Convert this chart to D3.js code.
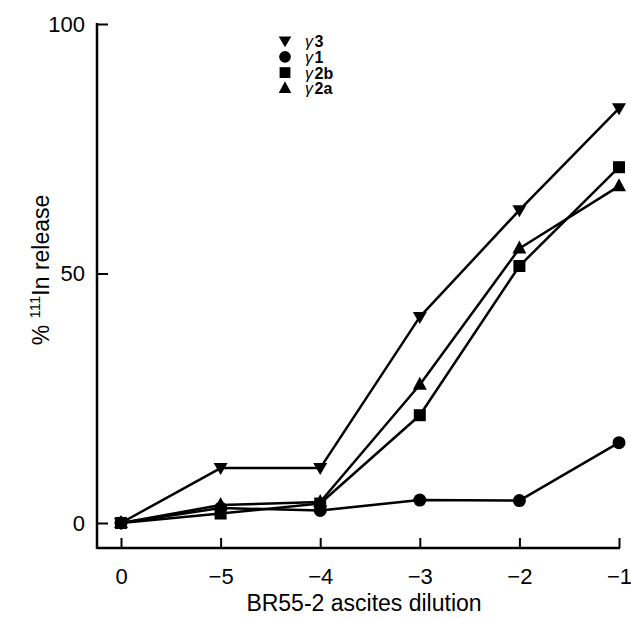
<!doctype html>
<html lang="en">
<head>
<meta charset="utf-8" />
<style>
  html, body { margin: 0; padding: 0; background: #fff; }
  svg { display: block; font-family: "Liberation Sans", Arial, sans-serif; }
  .tick text { font-size: 22px; fill: #000; }
  .tick line { stroke: #000; stroke-width: 2; }
</style>
</head>
<body>
<div id="chart"></div>
<script src="https://cdn.jsdelivr.net/npm/d3@7/dist/d3.min.js"></script>
<script>
// dilution steps, as printed on the x axis
const dilutions = ['0', '\u22125', '\u22124', '\u22123', '\u22122', '\u22121'];
const yTicks = [0, 50, 100];

// % release
const g3 = [0, 11.0, 11.0, 41.3, 62.7, 83.1];
const g1 = [0, 3.0, 2.5, 4.6, 4.5, 16.1];
const g2b = [0, 1.9, 3.9, 21.6, 51.5, 71.3];
const g2a = [0, 3.6, 4.2, 27.7, 55.0, 67.5];

const series = [
  { name: '3', values: g3, symbol: 'down' },
  { name: '1', values: g1, symbol: 'circle' },
  { name: '2b', values: g2b, symbol: 'square' },
  { name: '2a', values: g2a, symbol: 'up' },
];

const W = 631, H = 618;
const axisX = 97, axisY = 548;

const x = d3.scalePoint().domain(dilutions).range([121, 619]);
const y = d3.scaleLinear().domain([0, 100]).range([523, 24]);

const svg = d3.select('#chart').append('svg').attr('width', W).attr('height', H);

// marker shapes
function marker(sel, kind) {
  if (kind === 'circle') {
    sel.append('circle').attr('r', 6.5);
  } else if (kind === 'square') {
    sel.append('rect').attr('x', -6).attr('y', -6).attr('width', 12).attr('height', 12);
  } else if (kind === 'up') {
    sel.append('path').attr('d', 'M0,-8L7,5L-7,5Z');
  } else {
    sel.append('path').attr('d', 'M0,7L7,-5L-7,-5Z');
  }
}

// axes: domain lines drawn by hand so they meet in the corner
svg.append('line').attr('x1', axisX).attr('x2', axisX).attr('y1', y(100) - 1).attr('y2', axisY + 1)
  .attr('stroke', '#000').attr('stroke-width', 2.5);
svg.append('line').attr('x1', axisX).attr('x2', x('\u22121') + 1).attr('y1', axisY).attr('y2', axisY)
  .attr('stroke', '#000').attr('stroke-width', 2.5);

svg.append('g').attr('transform', `translate(${axisX},0)`)
  .call(d3.axisLeft(y).tickValues(yTicks).tickSize(-11).tickSizeOuter(0).tickPadding(12))
  .call(g => g.select('.domain').remove())
  .call(g => g.selectAll('.tick text').attr('font-family', null));

svg.append('g').attr('transform', `translate(0,${axisY})`)
  .call(d3.axisBottom(x).tickSize(-10).tickSizeOuter(0).tickPadding(20))
  .call(g => g.select('.domain').remove())
  .call(g => g.selectAll('.tick text').attr('font-family', null));

// axis titles
svg.append('text').attr('x', 364).attr('y', 611).attr('text-anchor', 'middle')
  .attr('font-size', 23).text('BR55-2 ascites dilution');

const yl = svg.append('text').attr('transform', 'translate(49,270) rotate(-90)')
  .attr('text-anchor', 'middle').attr('font-size', 23);
yl.append('tspan').text('% ');
yl.append('tspan').attr('font-size', 15).attr('dy', -9).text('111');
yl.append('tspan').attr('dy', 9).text('In release');

// lines + markers
const line = d3.line().x((d, i) => x(dilutions[i])).y(d => y(d));
for (const s of series) {
  svg.append('path').attr('d', line(s.values)).attr('fill', 'none')
    .attr('stroke', '#000').attr('stroke-width', 2.5).attr('stroke-linejoin', 'round');
  s.values.forEach((v, i) => {
    const g = svg.append('g').attr('transform', `translate(${x(dilutions[i])},${y(v)})`);
    marker(g, s.symbol);
  });
}

// legend
series.forEach((s, i) => {
  const ly = 41 + i * 15.8;
  marker(svg.append('g').attr('transform', `translate(285,${ly}) scale(0.9)`), s.symbol);
  const t = svg.append('text').attr('x', 305).attr('y', ly + 6).attr('font-size', 16);
  t.append('tspan').attr('font-style', 'italic').text('\u03b3');
  t.append('tspan').attr('dx', 1.5).attr('font-weight', 'bold').text(s.name);
});
</script>
</body>
</html>
